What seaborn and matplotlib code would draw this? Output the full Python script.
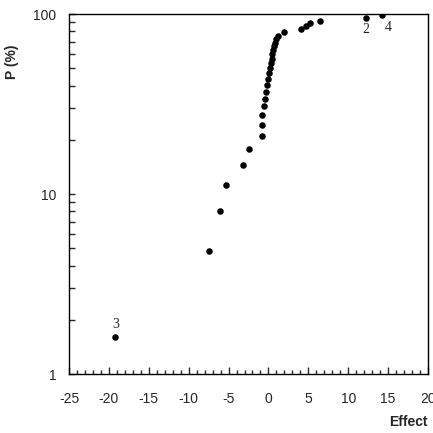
import numpy as np
import pandas as pd
import matplotlib
matplotlib.use("Agg")
import matplotlib.pyplot as plt
import matplotlib.ticker as mticker
import seaborn as sns

effects = [-19.2, -7.45, -6.1, -5.3, -3.2, -2.45, -0.85, -0.8, -0.75, -0.55,
           -0.45, -0.3, -0.2, 0.0, 0.1, 0.2, 0.3, 0.4, 0.5, 0.6,
           0.75, 0.85, 1.0, 1.15, 1.9, 4.1, 4.7, 5.2, 6.4, 12.2, 14.2]
prob = [1.61, 4.84, 8.06, 11.29, 14.52, 17.74, 20.97, 24.19, 27.42, 30.65,
        33.87, 37.10, 40.32, 43.55, 46.77, 50.00, 53.23, 56.45, 59.68, 62.90,
        66.13, 69.35, 72.58, 75.81, 79.03, 82.26, 85.48, 88.71, 91.94, 95.16, 98.39]
point_labels = {0: "3", 29: "2", 30: "4"}

df = pd.DataFrame({"Effect": effects, "P": prob})

sns.set_style("white")
plt.rcParams['font.family'] = ['Liberation Sans', 'DejaVu Sans']
plt.rcParams['axes.unicode_minus'] = False

fig = plt.figure(figsize=(4.33, 4.33), dpi=100)
ax = fig.add_axes([69/433, 1-374/433, 359/433, 360/433])
sns.scatterplot(data=df, x="Effect", y="P", ax=ax, color="black", s=22,
                edgecolor="black", linewidth=0, legend=False)
ax.set_yscale("log")
ax.set_xlim(-25, 20)
ax.set_ylim(1, 100)
ax.xaxis.set_major_locator(mticker.MultipleLocator(5))
ax.xaxis.set_minor_locator(mticker.MultipleLocator(1))
ax.yaxis.set_major_locator(mticker.FixedLocator([1, 10, 100]))
ax.yaxis.set_major_formatter(mticker.FixedFormatter(["1", "10", "100"]))
ax.yaxis.set_minor_locator(mticker.LogLocator(base=10, subs=np.arange(2, 10)))
ax.yaxis.set_minor_formatter(mticker.NullFormatter())
ax.tick_params(axis="x", which="major", direction="in", length=5, width=1, pad=13, labelsize=10, bottom=True, top=False)
ax.tick_params(axis="x", which="minor", direction="in", length=3, width=1, bottom=True, top=False)
ax.tick_params(axis="y", which="major", direction="in", length=4, width=1, pad=9, labelsize=10, left=True, right=False)
ax.tick_params(axis="y", which="minor", direction="in", length=4, width=1, left=True, right=False)
for s in ax.spines.values():
    s.set_visible(True)
    s.set_color("black")
    s.set_linewidth(1)
ax.set_xlabel("")
ax.set_ylabel("")
fig.text(12/433, 1-62/433, "P (%)", rotation=90, ha="center", va="center",
         fontsize=10, fontweight="bold")
fig.text(428/433, 1-422/433, "Effect", ha="right", va="center",
         fontsize=10, fontweight="bold")

offsets = {0: (0, 4, "center", "bottom"), 29: (0, -4, "center", "top"), 30: (2, -4, "left", "top")}
for i, lab in point_labels.items():
    dx, dy, ha, va = offsets[i]
    ax.annotate(lab, (effects[i], prob[i]), xytext=(dx, dy), textcoords="offset points",
                ha=ha, va=va, fontsize=10, family=["Liberation Serif", "DejaVu Serif"])

fig.savefig("out.png", dpi=100)
